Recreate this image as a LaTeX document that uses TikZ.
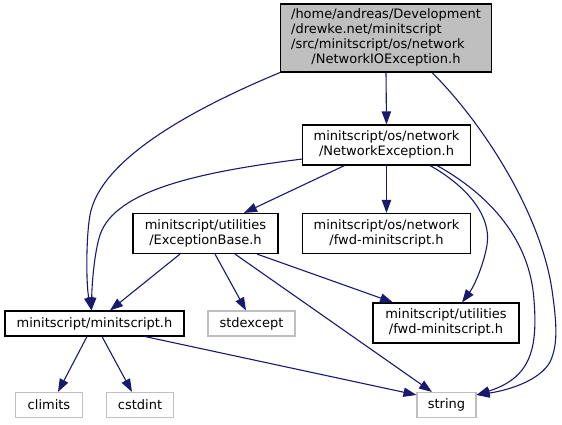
\documentclass[tikz,border=0pt]{standalone}
\usepackage{fontspec}
\setmainfont{DejaVu Sans}
\usetikzlibrary{arrows.meta,calc}
\definecolor{edgecol}{HTML}{191970}
\definecolor{extcol}{HTML}{BFBFBF}
\begin{document}
\begin{tikzpicture}[x=1pt,y=-1pt,
  box/.style={draw=black,line width=1.1pt,inner sep=0pt,font=\fontsize{13}{15}\selectfont,text=black},
  extbox/.style={box,draw=extcol},
  e/.style={draw=edgecol,line width=1.1pt,-{Triangle[length=13pt,width=9.3pt]}}]
\useasboundingbox (0,0) rectangle (562,424);
\node[box,fill=extcol,minimum width=211pt,minimum height=68pt] (top) at (386,38)
  {\begin{tabular}{@{}l@{}}/home/andreas/Development\\/drewke.net/minitscript\\/src/minitscript/os/network\\\multicolumn{1}{@{}c@{}}{/NetworkIOException.h}\end{tabular}};
\node[box,minimum width=168pt,minimum height=40pt] (ne) at (386.5,145)
  {\begin{tabular}{@{}l@{}}minitscript/os/network\\\multicolumn{1}{@{}c@{}}{/NetworkException.h}\end{tabular}};
\node[box,minimum width=168pt,minimum height=40pt] (fwdos) at (386.5,233.5)
  {\begin{tabular}{@{}l@{}}minitscript/os/network\\\multicolumn{1}{@{}c@{}}{/fwd-minitscript.h}\end{tabular}};
\node[box,minimum width=145pt,minimum height=40pt] (eb) at (205.5,233.5)
  {\begin{tabular}{@{}l@{}}minitscript/utilities\\\multicolumn{1}{@{}c@{}}{/ExceptionBase.h}\end{tabular}};
\node[box,minimum width=179pt,minimum height=25pt] (msh) at (94.5,323.5) {minitscript/minitscript.h};
\node[extbox,minimum width=87pt,minimum height=25pt] (std) at (251.5,323.5) {stdexcept};
\node[box,minimum width=146pt,minimum height=40pt] (utilfwd) at (446,323)
  {\begin{tabular}{@{}l@{}}minitscript/utilities\\\multicolumn{1}{@{}c@{}}{/fwd-minitscript.h}\end{tabular}};
\node[extbox,minimum width=67pt,minimum height=25pt] (climits) at (49,405) {climits};
\node[extbox,minimum width=67pt,minimum height=25pt] (cstdint) at (140,405) {cstdint};
\node[extbox,minimum width=59pt,minimum height=25pt] (string) at (446.5,405) {string};
% edges
\draw[e] (top.south) -- (ne.north);
\draw[e] (top.south west) .. controls (190,110) and (100,160) .. (90,215) .. controls (86,237) and (86,285) .. ([xshift=-3pt]msh.north);
\draw[e] ([xshift=46pt]top.south) .. controls (480,120) and (540,210) .. (552,290) .. controls (557,325) and (558,345) .. (550,362) .. controls (540,380) and (510,390) .. ([yshift=-3pt]string.north east);
\draw[e] ([yshift=6.5pt]ne.south west) .. controls (200,172) and (115,190) .. (100,235) .. controls (95,250) and (92,280) .. ([xshift=-3pt]msh.north);
\draw[e] ([xshift=43.5pt]ne.south) .. controls (465,185) and (492,215) .. (487,245) .. controls (484,263) and (475,285) .. ([xshift=16pt]utilfwd.north);
\draw[e] ([xshift=50.5pt]ne.south) .. controls (490,195) and (530,240) .. (534,300) .. controls (538,350) and (530,378) .. ([yshift=-3pt]string.north east);
\draw[e] (ne.south) -- (fwdos.north);
\draw[e] ([xshift=-42pt]ne.south) -- ([xshift=38.5pt]eb.north);
\draw[e] ([xshift=-25.5pt]eb.south) -- ([xshift=15.5pt]msh.north);
\draw[e] ([xshift=9.5pt]eb.south) -- ([xshift=-5.5pt]std.north);
\draw[e] ([xshift=29.5pt]eb.south) -- ([xshift=-14.5pt]string.north);
\draw[e] ([xshift=51.5pt]eb.south) -- ([xshift=-53pt]utilfwd.north);
\draw[e] ([xshift=-7.5pt]msh.south) -- ([xshift=9pt]climits.north);
\draw[e] ([xshift=7.5pt]msh.south) -- ([xshift=-8pt]cstdint.north);
\draw[e] ([xshift=50.5pt]msh.south) -- ([yshift=-3pt]string.north west);
\end{tikzpicture}
\end{document}
